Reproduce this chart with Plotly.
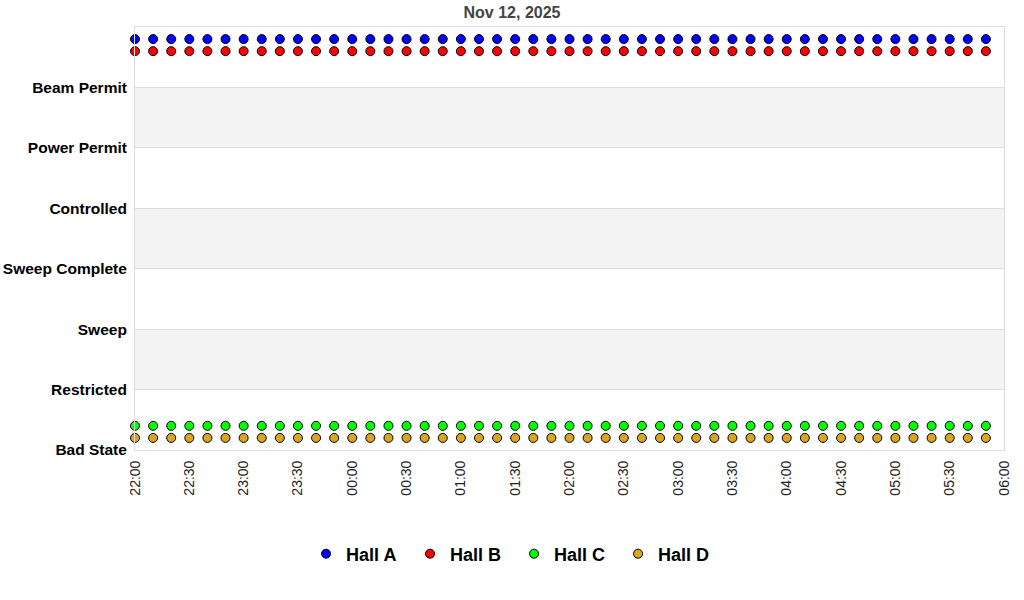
import plotly.graph_objects as go
import pandas as pd

# State names, bottom to top
states = ["Bad State", "Restricted", "Sweep", "Sweep Complete",
          "Controlled", "Power Permit", "Beam Permit"]

# Samples every 10 minutes, 22:00 -> 05:50
times = pd.date_range("2025-11-11 22:00", "2025-11-12 05:50", freq="10min")

halls = ["Hall A", "Hall B", "Hall C", "Hall D"]
hall_state = {
    "Hall A": ["Beam Permit"] * 48,
    "Hall B": ["Beam Permit"] * 48,
    "Hall C": ["Bad State"] * 48,
    "Hall D": ["Bad State"] * 48,
}
# vertical offset of each hall inside its state band
hall_offset = {"Hall A": 0.8, "Hall B": 0.6, "Hall C": 0.4, "Hall D": 0.2}
colors = {"Hall A": "#0000ff", "Hall B": "#ff0000",
          "Hall C": "#00ff00", "Hall D": "#daa520"}

fig = go.Figure()

for h in halls:
    y = [states.index(s) + hall_offset[h] for s in hall_state[h]]
    fig.add_trace(go.Scatter(
        x=times, y=y, name="<b>" + h + "</b>", mode="markers",
        marker=dict(size=9, color=colors[h], line=dict(color="black", width=1)),
        cliponaxis=False,
    ))

# alternating grey bands
for i in range(1, len(states), 2):
    fig.add_shape(type="rect", xref="paper", yref="y", x0=0, x1=1,
                  y0=i, y1=i + 1, fillcolor="#f3f3f3", line_width=0,
                  layer="below")

fig.update_layout(
    width=1024, height=600,
    margin=dict(l=135, r=20, t=27, b=150),
    paper_bgcolor="white", plot_bgcolor="white",
    font=dict(family="Liberation Sans, Arial, sans-serif", color="black"),
    title=dict(text="<b>Nov 12, 2025</b>", xref="container", x=0.5,
               xanchor="center", yref="container", y=0.98, yanchor="middle",
               font=dict(size=16, color="#444444")),
    showlegend=True,
    legend=dict(orientation="h", xref="container", x=0.502, xanchor="center",
                yref="container", y=0.0767, yanchor="middle",
                font=dict(size=18), entrywidth=59, entrywidthmode="pixels"),
)

fig.update_xaxes(
    type="date",
    range=["2025-11-11 22:00", "2025-11-12 06:00"],
    dtick=30 * 60 * 1000, tickformat="%H:%M", tickangle=-90,
    tickfont=dict(size=14, color="#222222"),
    showgrid=False, zeroline=False,
    showline=True, linecolor="#dddddd", mirror=True,
    ticks="", ticklabelstandoff=4, automargin=False,
)
fig.update_yaxes(
    range=[0, 7],
    tickvals=list(range(len(states))),
    ticktext=["<b>" + s + "</b>" for s in states],
    tickfont=dict(size=15.5, color="black"),
    showgrid=True, gridcolor="#dddddd", zeroline=False,
    showline=True, linecolor="#dddddd", mirror=True,
    ticks="", ticklabelstandoff=4, automargin=False,
)

# drop the default page margin so the figure sits at the window corner
fig.write_html("out.html", config={"displayModeBar": False},
               post_script="document.body.style.margin='0';")
